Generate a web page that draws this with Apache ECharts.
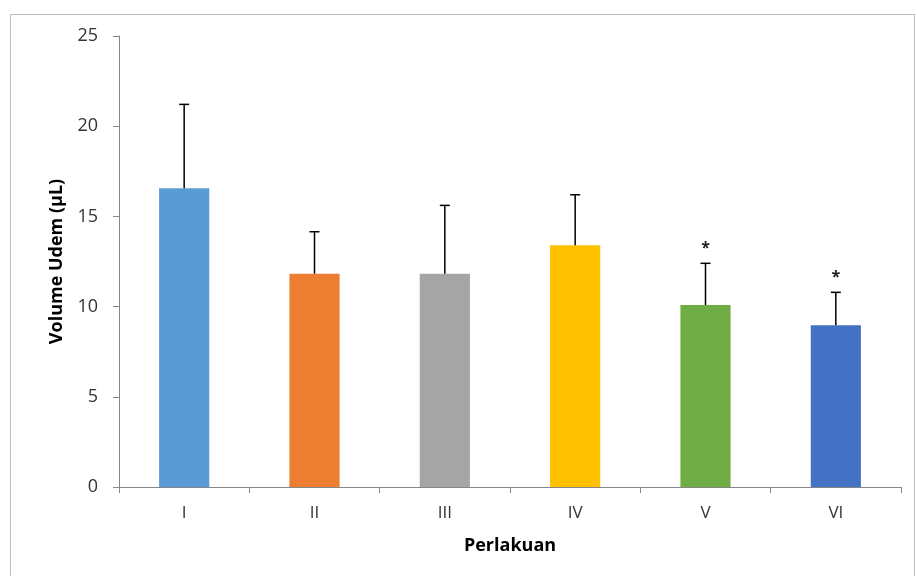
<!DOCTYPE html>
<html><head><meta charset="utf-8">
<script src="https://cdn.jsdelivr.net/npm/echarts@6/dist/echarts.min.js"></script>
<style>html,body{margin:0;padding:0;background:#fff}#c{width:917px;height:576px;position:relative}
#frame{position:absolute;left:10px;top:14px;width:905px;height:570px;border:1px solid #bfbfbf;box-sizing:border-box;pointer-events:none}</style>
</head><body><div id="c"></div><div id="frame"></div>
<script>
const categories = ['I','II','III','IV','V','VI'];
const means = [16.56, 11.82, 11.82, 13.40, 10.09, 8.96];
const errors = [4.65, 2.33, 3.79, 2.80, 2.31, 1.83];
const marks = ['', '', '', '', '*', '*'];
const colors = ['#5B9BD5','#ED7D31','#A5A5A5','#FFC000','#70AD47','#4472C4'];
const yTicks = [0, 5, 10, 15, 20, 25];

const chart = echarts.init(document.getElementById('c'));
const font = "'Open Sans', 'Noto Sans', sans-serif";
chart.setOption({
  animation: false,
  grid: {left: 119, right: 16, top: 36, bottom: 89},
  xAxis: {
    type: 'category', data: categories,
    name: 'Perlakuan', nameLocation: 'middle', nameGap: 50,
    nameTextStyle: {fontFamily: font, fontSize: 18, fontWeight: 'bold', color: '#000'},
    axisLine: {lineStyle: {color: '#868686', width: 1}},
    axisTick: {show: true, length: 6, lineStyle: {color: '#868686'}},
    axisLabel: {fontFamily: font, fontSize: 17, color: '#333', margin: 18}
  },
  yAxis: {
    type: 'value', min: yTicks[0], max: yTicks[yTicks.length-1], interval: 5,
    name: 'Volume Udem (\u00B5L)', nameLocation: 'middle', nameGap: 53, nameRotate: 90,
    nameTextStyle: {fontFamily: font, fontSize: 18, fontWeight: 'bold', color: '#000'},
    axisLine: {show: true, lineStyle: {color: '#868686', width: 1}},
    axisTick: {show: true, length: 6, lineStyle: {color: '#868686'}},
    splitLine: {show: false},
    axisLabel: {fontFamily: font, fontSize: 18, color: '#333', margin: 21}
  },
  series: [
    {
      type: 'bar', barWidth: '38.5%',
      data: means.map((v, i) => ({value: v, itemStyle: {color: colors[i]}}))
    },
    {
      type: 'custom', z: 5,
      data: means.map((v, i) => [i, v, v + errors[i], marks[i]]),
      renderItem: function (params, api) {
        const x = api.value(0);
        const base = api.coord([x, api.value(1)]);
        const top = api.coord([x, api.value(2)]);
        const capW = 5;
        const children = [
          {type: 'line', shape: {x1: base[0], y1: base[1], x2: top[0], y2: top[1]}, style: {stroke: '#000', lineWidth: 1.5}},
          {type: 'line', shape: {x1: top[0] - capW, y1: top[1], x2: top[0] + capW, y2: top[1]}, style: {stroke: '#000', lineWidth: 1.5}}
        ];
        const m = marks[params.dataIndex];
        if (m) {
          children.push({type: 'text', x: top[0], y: top[1] - 15, style: {text: m, fill: '#222', font: 'bold 16px ' + font, align: 'center', verticalAlign: 'middle'}});
        }
        return {type: 'group', children: children};
      }
    }
  ]
});
</script>
</body></html>
